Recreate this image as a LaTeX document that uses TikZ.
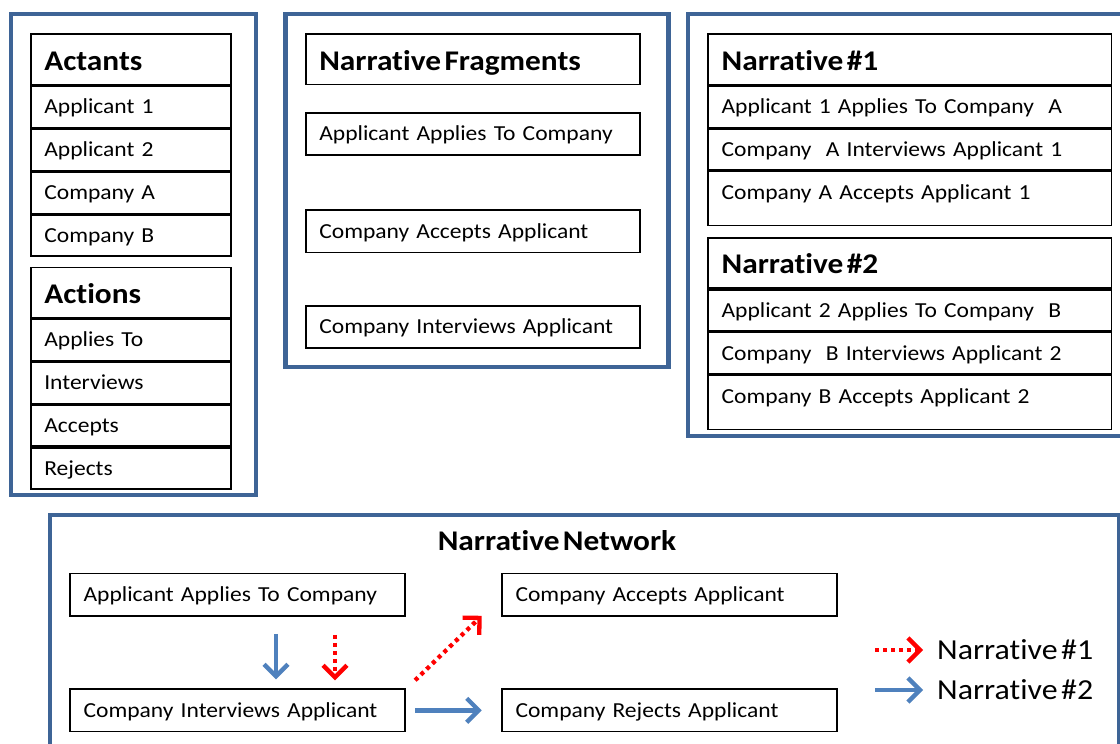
\documentclass[tikz,border=0pt]{standalone}
\usepackage{fontspec}
\setmainfont{Carlito}[FakeStretch=1.1,Ligatures=NoCommon]
\usetikzlibrary{arrows.meta,calc}
\definecolor{frameblue}{RGB}{62,100,150}
\definecolor{arrowblue}{RGB}{79,129,189}
\newcommand{\nsp}{\hspace{0.12em}}
\begin{document}
\begin{tikzpicture}[x=1pt,y=-1pt,
  frame/.style={draw=frameblue,line width=4.5pt},
  cell/.style={draw=black,line width=1.6pt,anchor=north west,inner xsep=13.5pt,inner ysep=0pt,
    align=left,font=\fontsize{21.4}{24}\selectfont,text height=17.5pt,text depth=3.5pt,minimum height=41.3pt},
  hcell/.style={cell,font=\fontsize{28.5}{32}\bfseries\selectfont,text height=26pt,text depth=4.5pt,minimum height=50.5pt},
  lastcell/.style={text depth=16.2pt,minimum height=54pt},
  acw/.style={minimum width=200pt,text width=173pt},
  frw/.style={minimum width=334.3pt,text width=307.3pt},
  naw/.style={minimum width=403.4pt,text width=376.4pt},
  nw/.style={minimum width=334.7pt,text width=307.7pt},
  title/.style={font=\fontsize{28.5}{32}\bfseries\selectfont,inner sep=0pt},
  legtext/.style={font=\fontsize{29}{32}\selectfont,inner sep=0pt,anchor=west},
  bluearrow/.style={draw=arrowblue,line width=4.3pt,-{Straight Barb[length=12pt,width=24pt]}},
  redarrow/.style={draw=red,line width=4.3pt,dash pattern=on 4pt off 4pt,-{Straight Barb[length=12pt,width=24pt]}}
]
\useasboundingbox (0,0) rectangle (1120,744);
\fill[white] (0,0) rectangle (1120,744);

% outer frames
\draw[frame] (11,14) rectangle (256,495);
\draw[frame] (285.5,14) rectangle (668.5,367);
\draw[frame] (688,14) rectangle (1135,436);
\draw[frame] (50,515) rectangle (1119,760);

% Actants
\node[hcell,acw] (actants) at (30,33.3) {Actants};
\node[cell,acw] (ac1) at (actants.south west) {Applicant 1};
\node[cell,acw] (ac2) at (ac1.south west) {Applicant 2};
\node[cell,acw] (ac3) at (ac2.south west) {Company A};
\node[cell,acw] (ac4) at (ac3.south west) {Company B};

% Actions
\node[hcell,acw,minimum height=50pt] (actions) at (30,266.7) {Actions};
\node[cell,acw] (at1) at (actions.south west) {Applies To};
\node[cell,acw] (at2) at (at1.south west) {Interviews};
\node[cell,acw] (at3) at (at2.south west) {Accepts};
\node[cell,acw] (at4) at (at3.south west) {Rejects};

% Narrative Fragments
\node[hcell,frw] (frag) at (305,33.3) {Narrative\nsp Fragments};
\node[cell,frw,minimum height=41.7pt] (fr1) at (305,112.3) {Applicant Applies To Company};
\node[cell,frw,minimum height=42.4pt] (fr2) at (305,209.3) {Company Accepts Applicant};
\node[cell,frw,minimum height=42.3pt] (fr3) at (305,305) {Company Interviews Applicant};

% Narrative #1
\node[hcell,naw] (n1) at (707.3,33.3) {Narrative\nsp\#1};
\node[cell,naw] (n1a) at (n1.south west) {Applicant 1 Applies To Company\ \ A};
\node[cell,naw,minimum height=40.7pt] (n1b) at (n1a.south west) {Company\ \ A Interviews Applicant 1};
\node[cell,naw,lastcell] (n1c) at (n1b.south west) {Company A Accepts Applicant 1};

% Narrative #2
\node[hcell,naw,minimum height=50pt] (n2) at (707.3,237.3) {Narrative\nsp\#2};
\node[cell,naw,minimum height=41pt] (n2a) at (n2.south west) {Applicant 2 Applies To Company\ \ B};
\node[cell,naw,minimum height=41.7pt] (n2b) at (n2a.south west) {Company\ \ B Interviews Applicant 2};
\node[cell,naw,lastcell] (n2c) at (n2b.south west) {Company B Accepts Applicant 2};

% Narrative Network
\node[title] (nettitle) at (557,540.5) {Narrative\nsp Network};
\node[cell,nw,minimum height=42.5pt] (aat) at (69.3,572.7) {Applicant Applies To Company};
\node[cell,nw,minimum height=42.5pt] (cia) at (69.3,688.3) {Company Interviews Applicant};
\node[cell,nw,minimum height=42.5pt] (caa) at (501.2,572.7) {Company Accepts Applicant};
\node[cell,nw,minimum height=42.5pt] (cra) at (501.2,688.3) {Company Rejects Applicant};

\draw[bluearrow] ($(aat.south west)+(206.7,17)$) -- ($(cia.north west)+(206.7,-9)$);
\draw[redarrow] ($(aat.south west)+(265.7,18)$) -- ($(cia.north west)+(265.7,-8)$);
\draw[redarrow] ($(cia.north east)+(9.5,-8)$) -- ($(caa.south west)+(-19.5,-1)$);
\draw[bluearrow] ($(cia.east)+(9.5,0)$) -- ($(cra.west)+(-19.5,0)$);

% Legend
\node[legtext] (leg1) at (937,650) {Narrative\nsp\#1};
\node[legtext] (leg2) at (937,690) {Narrative\nsp\#2};
\coordinate (l1) at (875,650);
\coordinate (l2) at (875,690);
\draw[redarrow] (l1) -- ($(leg1.west)+(-14,0)$);
\draw[bluearrow] (l2) -- ($(leg2.west)+(-14,0)$);
\end{tikzpicture}
\end{document}
